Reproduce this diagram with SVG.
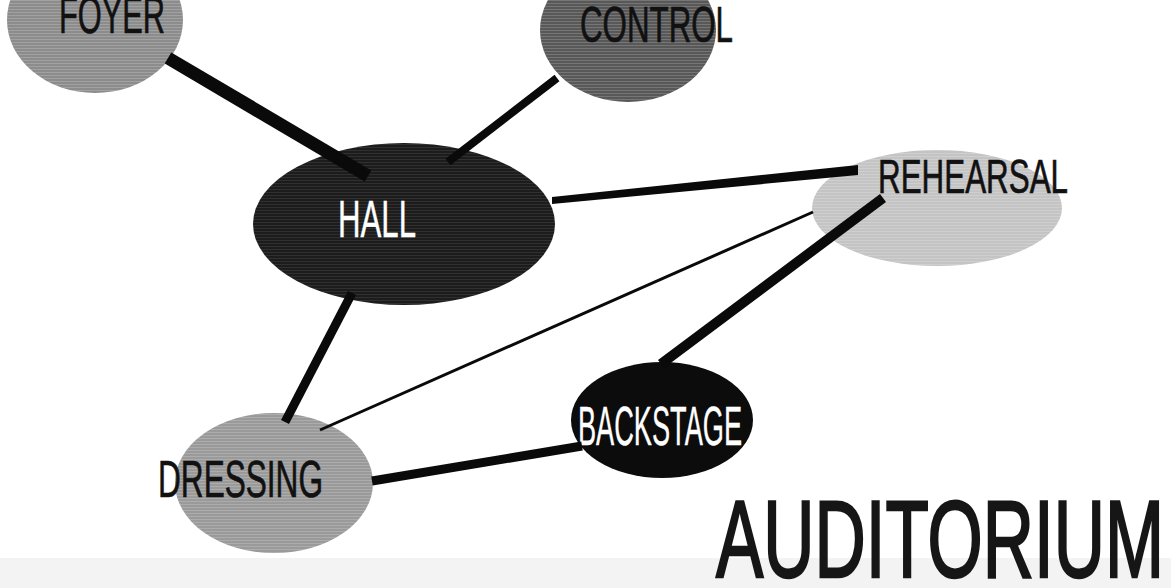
<svg xmlns="http://www.w3.org/2000/svg" width="1171" height="588" viewBox="0 0 1171 588">
<defs>
<pattern id="scan" width="6" height="3" patternUnits="userSpaceOnUse">
<rect x="0" y="0" width="6" height="1" fill="#ffffff" fill-opacity="0.18"/>
</pattern>
<style>
.lbl{font-family:"Liberation Sans Narrow","Liberation Sans",Arial,sans-serif;font-size:50px;}
.dark{fill:#111;stroke:#111;stroke-width:0.7;}
.light{fill:#fff;stroke:#fff;stroke-width:0.4;}
.tex{fill:url(#scan);}
.conn{stroke:#0a0a0a;stroke-linecap:butt;fill:none;}
</style>
</defs>
<rect x="0" y="0" width="1171" height="588" fill="#ffffff"/>
<rect x="0" y="558" width="1171" height="30" fill="#f3f3f3"/>

<g id="node-foyer">
<ellipse cx="95" cy="20" rx="88" ry="73" fill="#8c8c8c"/>
<ellipse class="tex" cx="95" cy="20" rx="88" ry="73"/>
<text class="lbl dark" x="59" y="33" style="font-size:52px" textLength="106" lengthAdjust="spacingAndGlyphs">FOYER</text>
</g>
<g id="node-control">
<ellipse cx="628" cy="30" rx="88" ry="72" fill="#585858"/>
<ellipse class="tex" cx="628" cy="30" rx="88" ry="72"/>
<text class="lbl dark" x="580" y="42" style="font-size:50px" textLength="153" lengthAdjust="spacingAndGlyphs">CONTROL</text>
</g>
<g id="node-hall">
<ellipse cx="404" cy="224" rx="151" ry="81" fill="#1c1c1c"/>
<ellipse class="tex" cx="404" cy="224" rx="151" ry="81" opacity="0.5"/>
<text class="lbl light" x="338" y="237" style="font-size:51px" textLength="78" lengthAdjust="spacingAndGlyphs">HALL</text>
</g>
<g id="node-rehearsal">
<ellipse cx="937" cy="208" rx="125" ry="58" fill="#c4c4c4"/>
<ellipse class="tex" cx="937" cy="208" rx="125" ry="58"/>
<text class="lbl dark" x="878" y="193" style="font-size:49px" textLength="190" lengthAdjust="spacingAndGlyphs">REHEARSAL</text>
</g>
<g id="node-backstage">
<ellipse cx="662" cy="420" rx="91" ry="58" fill="#0c0c0c"/>
<text class="lbl light" x="578" y="445" style="font-size:55px" textLength="164" lengthAdjust="spacingAndGlyphs">BACKSTAGE</text>
</g>
<g id="node-dressing">
<ellipse cx="274" cy="483" rx="99" ry="70" fill="#9a9a9a"/>
<ellipse class="tex" cx="274" cy="483" rx="99" ry="70"/>
<text class="lbl dark" x="158" y="497" style="font-size:52px" textLength="165" lengthAdjust="spacingAndGlyphs">DRESSING</text>
</g>

<g id="connectors">
<line class="conn" x1="168" y1="58" x2="368" y2="176" stroke-width="13"/>
<line class="conn" x1="557" y1="78" x2="448" y2="162" stroke-width="8"/>
<polygon fill="#0a0a0a" points="552,197 858,165 858,175 552,204"/>
<line class="conn" x1="883" y1="198" x2="661" y2="364" stroke-width="10"/>
<line class="conn" x1="813" y1="212" x2="320" y2="430" stroke-width="3"/>
<line class="conn" x1="352" y1="293" x2="285" y2="422" stroke-width="9"/>
<line class="conn" x1="372" y1="481" x2="582" y2="446" stroke-width="9"/>
</g>

<g id="title">
<text class="lbl" x="716" y="577" style="font-size:110px;fill:#161616;stroke:#161616;stroke-width:2.5" textLength="448" lengthAdjust="spacingAndGlyphs">AUDITORIUM</text>
</g>
</svg>
